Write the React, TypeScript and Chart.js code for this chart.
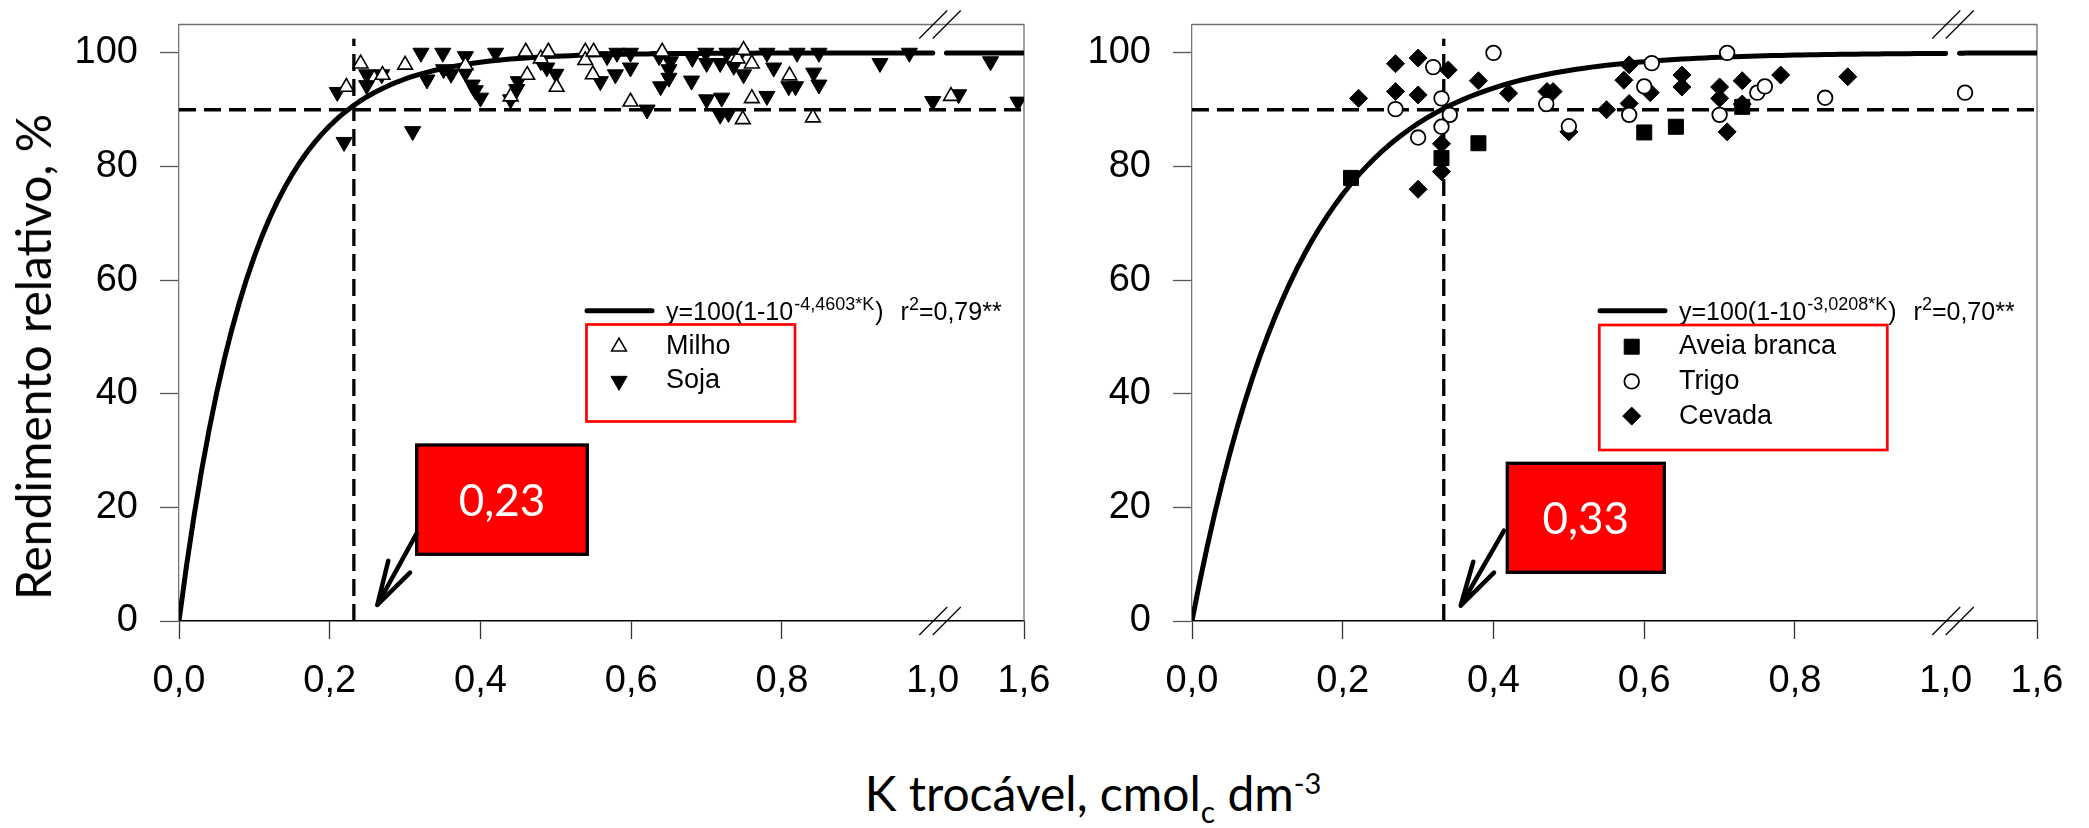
import React, { useEffect, useRef } from 'react';
import { Chart, registerables, LinearScale } from 'chart.js';

Chart.register(...registerables);

// ---------------- data ----------------
const X_TICKS = [0, 0.2, 0.4, 0.6, 0.8, 1.0, 1.6];
const Y_TICKS = [0, 20, 40, 60, 80, 100];

// Left panel: Milho / Soja
const milhoK = [0.222, 0.241, 0.27, 0.30, 0.38, 0.44, 0.46, 0.462, 0.48, 0.49, 0.501, 0.539, 0.539, 0.55, 0.549, 0.599, 0.641, 0.741, 0.749, 0.76, 0.76, 0.748, 0.81, 0.841, 1.12];
const milhoY = [94, 98.1, 96.1, 97.9, 97.8, 92.3, 100.2, 96.1, 99, 100.2, 94, 100.2, 98.7, 100.2, 96.2, 91.4, 100.2, 99, 100.5, 98.1, 92, 88.3, 96, 88.6, 92.4];

const sojaK = [0.21, 0.219, 0.249, 0.249, 0.269, 0.31, 0.321, 0.329, 0.35, 0.351, 0.361, 0.38, 0.38, 0.389, 0.393, 0.40, 0.42, 0.44, 0.45, 0.448, 0.48, 0.488, 0.50, 0.559, 0.568, 0.579, 0.581, 0.599, 0.599, 0.621, 0.639, 0.637, 0.65, 0.652, 0.65, 0.681, 0.68, 0.699, 0.70, 0.70, 0.718, 0.72, 0.718, 0.729, 0.727, 0.736, 0.749, 0.745, 0.78, 0.78, 0.789, 0.809, 0.818, 0.82, 0.842, 0.849, 0.849, 0.93, 0.969, 1.0, 1.17, 1.38, 1.56];
const sojaY = [93.1, 84.3, 96.2, 94.3, 96.2, 86.2, 100, 95.3, 100, 97.1, 96.3, 99.4, 96.5, 94.4, 93.4, 92.1, 100, 91.8, 95, 93.6, 98.5, 97.4, 96.3, 95, 99.4, 96.2, 100, 100, 97.4, 90, 94.1, 99.4, 97.1, 98.5, 95.6, 99.1, 95.1, 100, 98.2, 91.8, 98.2, 92.1, 89.1, 89.4, 100, 97.7, 96.2, 100, 100, 92.4, 97.4, 94.1, 94.1, 100, 96.5, 100, 94.4, 98.2, 100, 91.5, 92.7, 98.5, 91.4];

// Right panel: Aveia branca / Trigo / Cevada
const aveiaK = [0.211, 0.331, 0.38, 0.60, 0.642, 0.73];
const aveiaY = [78, 81.5, 84.1, 86, 87, 90.5];

const trigoK = [0.27, 0.32, 0.331, 0.342, 0.331, 0.30, 0.40, 0.47, 0.50, 0.58, 0.60, 0.61, 0.71, 0.70, 0.75, 0.76, 0.84, 1.127];
const trigoY = [90.1, 97.5, 92, 89.1, 87, 85.1, 100, 91, 87.1, 89.1, 94.1, 98.2, 100, 89.1, 93, 94.1, 92.1, 93];

const cevadaK = [0.221, 0.27, 0.27, 0.30, 0.30, 0.34, 0.331, 0.331, 0.30, 0.38, 0.42, 0.471, 0.479, 0.50, 0.55, 0.58, 0.573, 0.58, 0.608, 0.65, 0.65, 0.70, 0.70, 0.71, 0.73, 0.73, 0.781, 0.87];
const cevadaY = [92, 98.1, 93.2, 99.1, 92.6, 97, 84, 79.1, 76, 95.1, 92.9, 93.2, 93.2, 86.1, 90, 97.9, 95.2, 91.1, 93, 96.1, 94, 94, 92, 86.1, 95.1, 91, 96.1, 95.8];

// fitted models y = 100(1 - 10^(-a*K))
const leftCoef = 4.4603;
const rightCoef = 3.0208;
const leftExpText = '-4,4603*K';
const rightExpText = '-3,0208*K';
const leftR2 = '=0,79**';
const rightR2 = '=0,70**';
const leftCritical = 0.232;
const rightCritical = 0.334;
const leftCriticalLabel = '0,23';
const rightCriticalLabel = '0,33';
const SUFFICIENCY = 90;

// ---------------- broken x scale ----------------
const BREAK_VALUE = 1.0;
const BREAK_FRACTION = 0.892;
const CURVE_RESUME = 1.09;

class BrokenLinearScale extends LinearScale {
  static id = 'brokenLinear';
  getPixelForValue(value: any) {
    if (value === null || value === undefined || isNaN(value)) return NaN;
    const min = (this as any).min;
    const max = (this as any).max;
    let dec: number;
    if (value <= BREAK_VALUE) dec = ((value - min) / (BREAK_VALUE - min)) * BREAK_FRACTION;
    else dec = BREAK_FRACTION + ((value - BREAK_VALUE) / (max - BREAK_VALUE)) * (1 - BREAK_FRACTION);
    return (this as any).getPixelForDecimal(dec);
  }
  getValueForPixel(pixel: number) {
    const min = (this as any).min;
    const max = (this as any).max;
    const dec = (this as any).getDecimalForPixel(pixel);
    if (dec <= BREAK_FRACTION) return min + (dec / BREAK_FRACTION) * (BREAK_VALUE - min);
    return BREAK_VALUE + ((dec - BREAK_FRACTION) / (1 - BREAK_FRACTION)) * (max - BREAK_VALUE);
  }
}
Chart.register(BrokenLinearScale as any);

// ---------------- layout ----------------
const CANVAS_H = 760;
const AREA_LEFT = 179;
const AREA_TOP = 24.5;
const AREA_RIGHT = 1024;
const AREA_BOTTOM = 621;
const RIGHT_OFFSET = 1013;

const ARIAL = '"Liberation Sans", Arial, sans-serif';
const CALIBRI = 'Lato, "Open Sans", sans-serif';

function drawMarker(ctx: CanvasRenderingContext2D, s: any, x: number, y: number) {
  const r = s.radius;
  ctx.save();
  ctx.beginPath();
  if (s.style === 'circle') {
    ctx.arc(x, y, r, 0, Math.PI * 2);
  } else if (s.style === 'triangle') {
    let rad = ((s.rotation || 0) * Math.PI) / 180;
    for (let i = 0; i < 3; i++) {
      const px = x + Math.sin(rad) * r;
      const py = y - Math.cos(rad) * r;
      if (i === 0) ctx.moveTo(px, py); else ctx.lineTo(px, py);
      rad += (2 * Math.PI) / 3;
    }
    ctx.closePath();
  } else if (s.style === 'rect') {
    const h = Math.SQRT1_2 * r;
    ctx.rect(x - h, y - h, 2 * h, 2 * h);
  } else if (s.style === 'rectRot') {
    ctx.moveTo(x - r, y);
    ctx.lineTo(x, y - r);
    ctx.lineTo(x + r, y);
    ctx.lineTo(x, y + r);
    ctx.closePath();
  }
  ctx.fillStyle = s.fill;
  ctx.fill();
  ctx.lineWidth = s.bw;
  ctx.strokeStyle = '#000';
  ctx.stroke();
  ctx.restore();
}

function makeDecor(cfg: any) {
  return {
    id: 'decor',
    beforeDatasetsDraw(chart: any) {
      const { ctx, chartArea: a } = chart;
      ctx.save();
      ctx.strokeStyle = '#6e6e6e';
      ctx.lineWidth = 1.3;
      ctx.beginPath();
      ctx.moveTo(a.left, a.top);
      ctx.lineTo(a.right, a.top);
      ctx.lineTo(a.right, a.bottom);
      ctx.stroke();
      ctx.restore();
    },
    afterDraw(chart: any) {
      const { ctx, chartArea: a } = chart;
      const xs = chart.scales.x;
      ctx.save();

      // axis break marks
      const bx = xs.getPixelForValue(BREAK_VALUE);
      ctx.strokeStyle = '#000';
      ctx.lineWidth = 1.2;
      [a.top, a.bottom].forEach((cy: number) => {
        [bx + 0.5, bx + 14].forEach((cx) => {
          ctx.beginPath();
          ctx.moveTo(cx - 14, cy + 14);
          ctx.lineTo(cx + 14, cy - 14);
          ctx.stroke();
        });
      });

      // equation line + text
      const L = cfg.legend;
      ctx.lineCap = 'round';
      ctx.lineWidth = 5;
      ctx.beginPath();
      ctx.moveTo(L.lineX0, L.eqLineY);
      ctx.lineTo(L.lineX1, L.eqLineY);
      ctx.stroke();

      ctx.fillStyle = '#000';
      ctx.textBaseline = 'alphabetic';
      ctx.textAlign = 'left';
      const mainF = `25px ${ARIAL}`;
      const supF = `18px ${ARIAL}`;
      let cx = L.textX;
      const by = L.eqBaseline;
      ctx.font = mainF;
      ctx.fillText('y=100(1-10', cx, by);
      cx += ctx.measureText('y=100(1-10').width + 1;
      ctx.font = supF;
      ctx.fillText(cfg.expText, cx, by - 10);
      cx += ctx.measureText(cfg.expText).width + 1;
      ctx.font = mainF;
      ctx.fillText(')', cx, by);
      cx += ctx.measureText(')').width + 17;
      ctx.fillText('r', cx, by);
      cx += ctx.measureText('r').width;
      ctx.font = supF;
      ctx.fillText('2', cx, by - 10);
      cx += ctx.measureText('2').width;
      ctx.font = mainF;
      ctx.fillText(cfg.r2, cx, by);

      // legend box
      ctx.strokeStyle = '#ff0000';
      ctx.lineWidth = 2.7;
      ctx.lineCap = 'butt';
      ctx.strokeRect(L.boxX, L.boxY, L.boxW, L.boxH);
      ctx.font = `27px ${ARIAL}`;
      ctx.textBaseline = 'middle';
      cfg.series.forEach((s: any, i: number) => {
        const yy = L.rowY0 + i * L.rowStep;
        drawMarker(ctx, s, L.markerX, yy);
        ctx.fillStyle = '#000';
        ctx.fillText(s.label, L.textX, yy);
      });

      // critical value annotation
      const B = cfg.box;
      ctx.fillStyle = '#ff0000';
      ctx.fillRect(B.x, B.y, B.w, B.h);
      ctx.strokeStyle = '#000';
      ctx.lineWidth = 3.3;
      ctx.strokeRect(B.x, B.y, B.w, B.h);
      ctx.fillStyle = '#fff';
      ctx.font = `44px ${CALIBRI}`;
      ctx.textAlign = 'center';
      ctx.textBaseline = 'middle';
      ctx.fillText(cfg.criticalLabel, B.x + B.w / 2, B.y + B.h / 2 + 2);

      const A = cfg.arrow;
      ctx.strokeStyle = '#000';
      ctx.lineWidth = 4.5;
      ctx.lineCap = 'round';
      ctx.lineJoin = 'round';
      ctx.beginPath();
      ctx.moveTo(A.sx, A.sy);
      ctx.lineTo(A.tx, A.ty);
      ctx.moveTo(A.w1x, A.w1y);
      ctx.lineTo(A.tx, A.ty);
      ctx.lineTo(A.w2x, A.w2y);
      ctx.stroke();

      ctx.restore();
    },
  };
}

function curveData(a: number) {
  const out: any[] = [];
  for (let i = 0; i <= 100; i++) {
    const k = i / 100;
    out.push({ x: k, y: 100 * (1 - Math.pow(10, -a * k)) });
  }
  out.push({ x: (BREAK_VALUE + CURVE_RESUME) / 2, y: null });
  for (let k = CURVE_RESUME; k <= 1.6001; k += 0.01) {
    out.push({ x: Math.min(k, 1.6), y: 100 * (1 - Math.pow(10, -a * k)) });
  }
  return out;
}

function buildConfig(cfg: any): any {
  const datasets: any[] = cfg.series.map((s: any) => ({
    label: s.label,
    data: s.k.map((k: number, i: number) => ({ x: k, y: s.y[i] })),
    pointStyle: s.style,
    rotation: s.rotation || 0,
    pointRadius: s.radius,
    pointHoverRadius: s.radius,
    backgroundColor: s.fill,
    borderColor: '#000',
    borderWidth: s.bw,
    showLine: false,
  }));
  datasets.push({
    label: 'fit',
    data: curveData(cfg.coef),
    showLine: true,
    pointRadius: 0,
    borderColor: '#000',
    borderWidth: 5,
    borderCapStyle: 'round',
    borderJoinStyle: 'round',
    spanGaps: false,
    tension: 0,
  });
  datasets.push({
    label: 'h90',
    data: [{ x: 0, y: SUFFICIENCY }, { x: 1.6, y: SUFFICIENCY }],
    showLine: true,
    pointRadius: 0,
    borderColor: '#000',
    borderWidth: 3.5,
    borderDash: [17, 8],
  });
  datasets.push({
    label: 'vcrit',
    data: [{ x: cfg.critical, y: 0 }, { x: cfg.critical, y: 102.5 }],
    showLine: true,
    pointRadius: 0,
    borderColor: '#000',
    borderWidth: 3.3,
    borderDash: [17, 8],
  });

  return {
    type: 'scatter',
    data: { datasets },
    options: {
      responsive: false,
      animation: false,
      events: [],
      layout: { padding: { top: AREA_TOP, left: 0, bottom: 0, right: cfg.canvasW - AREA_RIGHT } },
      plugins: { legend: { display: false }, tooltip: { enabled: false } },
      scales: {
        x: {
          type: 'brokenLinear',
          min: 0,
          max: 1.6,
          afterBuildTicks: (s: any) => { s.ticks = X_TICKS.map((v) => ({ value: v })); },
          afterFit: (s: any) => {
            s.height = CANVAS_H - AREA_BOTTOM;
            s.paddingLeft = 0;
            s.paddingRight = 0;
          },
          ticks: {
            autoSkip: false,
            maxRotation: 0,
            minRotation: 0,
            padding: 20,
            color: '#000',
            font: { family: ARIAL, size: 38 },
            callback: (v: any) => Number(v).toFixed(1).replace('.', ','),
          },
          grid: {
            display: true,
            drawOnChartArea: false,
            drawTicks: true,
            tickLength: 18,
            tickWidth: 1.3,
            tickColor: (c: any) => (c.tick && c.tick.value === BREAK_VALUE ? 'rgba(0,0,0,0)' : '#333'),
          },
          border: { display: true, color: '#000', width: 1.6 },
        },
        y: {
          type: 'linear',
          min: 0,
          max: 105,
          afterBuildTicks: (s: any) => { s.ticks = Y_TICKS.map((v) => ({ value: v })); },
          afterFit: (s: any) => {
            s.width = AREA_LEFT;
            s.paddingTop = 0;
            s.paddingBottom = 0;
          },
          ticks: {
            padding: 22,
            color: '#000',
            font: { family: ARIAL, size: 38 },
            callback: (v: any) => String(v),
          },
          grid: {
            display: true,
            drawOnChartArea: false,
            drawTicks: true,
            tickLength: 19,
            tickWidth: 1.3,
            tickColor: '#555',
          },
          border: { display: true, color: '#777', width: 1.3 },
        },
      },
    },
    plugins: [makeDecor(cfg)],
  };
}

const leftCfg = {
  canvasW: 1060,
  coef: leftCoef,
  critical: leftCritical,
  criticalLabel: leftCriticalLabel,
  expText: leftExpText,
  r2: leftR2,
  series: [
    { label: 'Milho', k: milhoK, y: milhoY, style: 'triangle', rotation: 0, radius: 8.5, fill: '#fff', bw: 1.6 },
    { label: 'Soja', k: sojaK, y: sojaY, style: 'triangle', rotation: 180, radius: 9.3, fill: '#000', bw: 1 },
  ],
  legend: { lineX0: 587, lineX1: 652, eqLineY: 310.7, textX: 666, eqBaseline: 320, boxX: 586.5, boxY: 324.5, boxW: 208.5, boxH: 97, markerX: 619, rowY0: 346.7, rowStep: 34.3 },
  box: { x: 416.7, y: 445, w: 170.6, h: 109.3 },
  arrow: { sx: 416.7, sy: 533.3, tx: 377.3, ty: 605, w1x: 388.3, w1y: 560.7, w2x: 410, w2y: 572.7 },
};

const rightCfg = {
  canvasW: 1076,
  coef: rightCoef,
  critical: rightCritical,
  criticalLabel: rightCriticalLabel,
  expText: rightExpText,
  r2: rightR2,
  series: [
    { label: 'Aveia branca', k: aveiaK, y: aveiaY, style: 'rect', rotation: 0, radius: 10.6, fill: '#000', bw: 1 },
    { label: 'Trigo', k: trigoK, y: trigoY, style: 'circle', rotation: 0, radius: 7.3, fill: '#fff', bw: 1.8 },
    { label: 'Cevada', k: cevadaK, y: cevadaY, style: 'rectRot', rotation: 0, radius: 9, fill: '#000', bw: 1 },
  ],
  legend: { lineX0: 587, lineX1: 652, eqLineY: 310.7, textX: 666, eqBaseline: 320, boxX: 586.3, boxY: 325, boxW: 288, boxH: 125, markerX: 618.7, rowY0: 346.7, rowStep: 34.7 },
  box: { x: 494.3, y: 463.3, w: 157, h: 109 },
  arrow: { sx: 491, sy: 530.7, tx: 447.7, ty: 605.7, w1x: 460.3, w1y: 561.7, w2x: 481, w2y: 572.7 },
};

function Panel({ cfg, left }: { cfg: any; left: number }) {
  const ref = useRef<HTMLCanvasElement>(null);
  useEffect(() => {
    const chart = new Chart(ref.current as HTMLCanvasElement, buildConfig(cfg));
    return () => chart.destroy();
  }, [cfg]);
  return (
    <canvas
      ref={ref}
      width={cfg.canvasW}
      height={CANVAS_H}
      style={{ position: 'absolute', left, top: 0, width: cfg.canvasW, height: CANVAS_H }}
    />
  );
}

export default function App() {
  return (
    <div style={{ position: 'absolute', left: 0, top: 0, width: 2089, height: 828, background: '#fff', overflow: 'hidden' }}>
      <Panel cfg={leftCfg} left={0} />
      <Panel cfg={rightCfg} left={RIGHT_OFFSET} />
      <div
        style={{
          position: 'absolute',
          left: 33,
          top: 357,
          transform: 'translate(-50%, -50%) rotate(-90deg)',
          fontFamily: CALIBRI,
          fontSize: 48,
          lineHeight: '48px',
          whiteSpace: 'nowrap',
          color: '#000',
        }}
      >
        Rendimento relativo, %
      </div>
      <div
        style={{
          position: 'absolute',
          left: 1093,
          top: 769,
          transform: 'translateX(-50%)',
          fontFamily: CALIBRI,
          fontSize: 48,
          lineHeight: '48px',
          whiteSpace: 'nowrap',
          color: '#000',
        }}
      >
        K trocável, cmol
        <span style={{ position: 'relative', top: 12, fontSize: 30, lineHeight: 0 }}>c</span>
        {' dm'}
        <span style={{ position: 'relative', top: -17, fontSize: 29, lineHeight: 0 }}>-3</span>
      </div>
    </div>
  );
}
